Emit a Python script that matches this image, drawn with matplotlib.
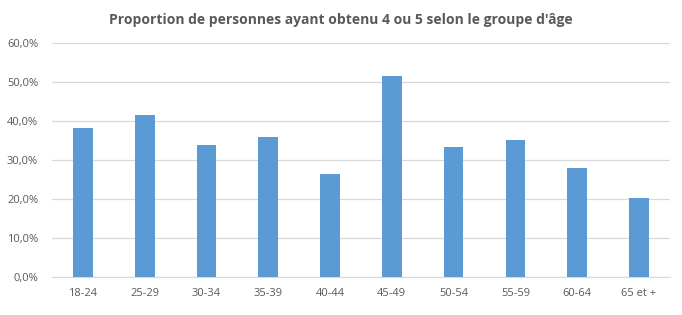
import matplotlib.pyplot as plt
from matplotlib.ticker import FuncFormatter

groupes = ["18-24", "25-29", "30-34", "35-39", "40-44", "45-49", "50-54", "55-59", "60-64", "65 et +"]
proportions = [38.3, 41.6, 33.9, 36.0, 26.5, 51.6, 33.4, 35.2, 28.0, 20.3]

plt.rcParams['font.family'] = ['Open Sans', 'DejaVu Sans']
gris = '#595959'

fig = plt.figure(figsize=(6.82, 3.15), dpi=100)
ax = fig.add_axes([0.0762, 0.1206, 0.906, 0.743])

x = range(len(groupes))
ax.bar(x, proportions, width=0.32, color='#5B9BD5', zorder=3)

ax.set_xlim(-0.5, len(groupes) - 0.5)
ax.set_ylim(0, 60)
ax.set_yticks(range(0, 61, 10))
ax.yaxis.set_major_formatter(FuncFormatter(lambda v, p: f"{v:.1f}%".replace('.', ',')))
ax.set_xticks(list(x))
ax.set_xticklabels(groupes)

ax.grid(axis='y', color='#D9D9D9', linewidth=0.9, zorder=0)
for s in ['top', 'right', 'left']:
    ax.spines[s].set_visible(False)
ax.spines['bottom'].set_color('#D9D9D9')
ax.tick_params(length=0, colors=gris, labelsize=8)
ax.tick_params(axis='y', pad=10)
ax.tick_params(axis='x', pad=8)

fig.suptitle("Proportion de personnes ayant obtenu 4 ou 5 selon le groupe d'âge",
             y=0.96, fontsize=10, fontweight='bold', color=gris)

fig.savefig('out.png')
